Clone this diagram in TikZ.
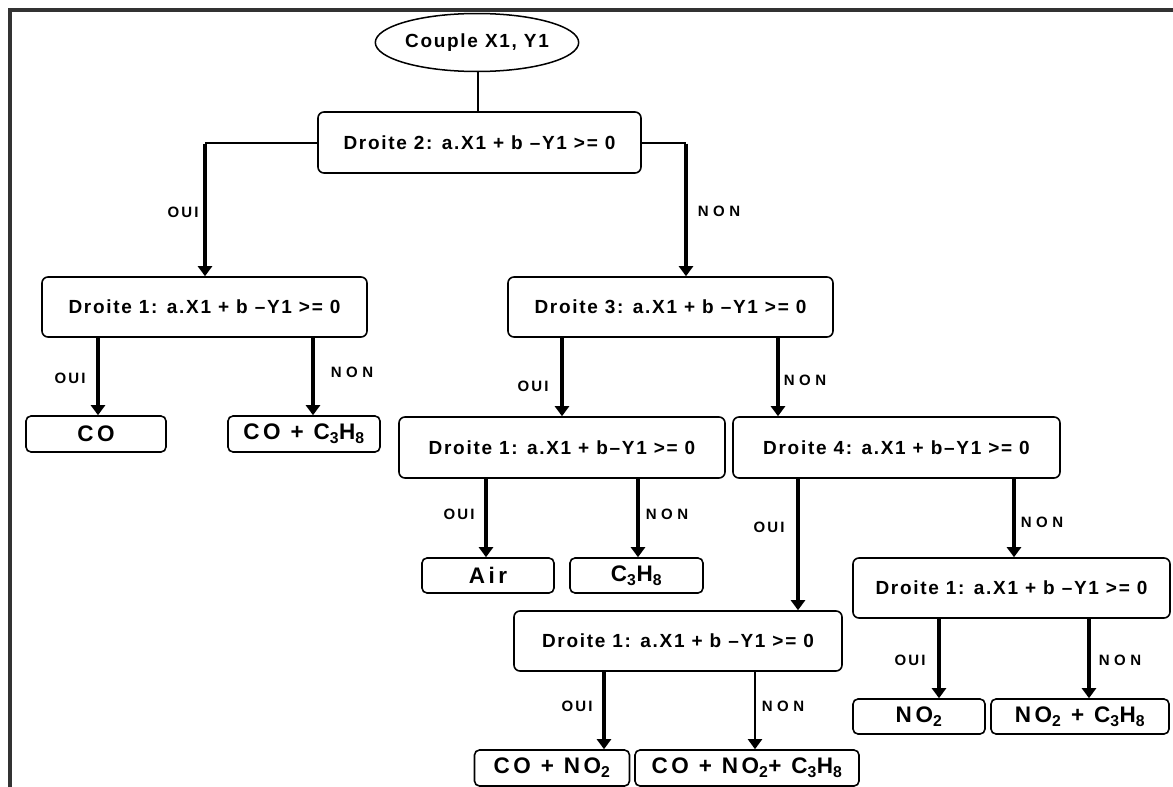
\documentclass[tikz,border=0pt]{standalone}
\usepackage{fontspec}
\newfontfamily\lsf[LetterSpace=9]{Liberation Sans}
\newfontfamily\lsfl[LetterSpace=16]{Liberation Sans}
\newfontfamily\lsfo[LetterSpace=14]{Liberation Sans}
\newfontfamily\lsfn[LetterSpace=30]{Liberation Sans}
\usetikzlibrary{arrows.meta,shapes.geometric}
\begin{document}
\begin{tikzpicture}[x=1pt,y=-1pt,
  cond/.style={draw, line width=1.6pt, rounded corners=6pt, minimum height=61pt, inner sep=0pt, font=\lsf\bfseries\fontsize{19}{21}\selectfont},
  leaf/.style={draw, line width=1.6pt, rounded corners=5pt, minimum height=35pt, inner sep=0pt, font=\lsfl\bfseries\fontsize{22.5}{24}\selectfont},
  oui/.style={font=\lsfo\bfseries\fontsize{15}{17}\selectfont, inner sep=0pt},
  non/.style={font=\lsfn\bfseries\fontsize{15}{17}\selectfont, inner sep=0pt},
  thk/.style={line width=4pt, -{Triangle[length=10pt,width=14pt]}},
  thn/.style={line width=2pt, -{Triangle[length=10pt,width=14pt]}},
  lnk/.style={line width=2pt},
]
\useasboundingbox (0,0) rectangle (1173,787);
\draw[line width=4pt, black!80] (10,787) -- (10,10) -- (1173,10);

% nodes
\node[draw, fill=white, ellipse, line width=1.5pt, minimum width=198pt, minimum height=58pt, inner sep=0pt, font=\lsf\bfseries\fontsize{19}{21}\selectfont] (start) at (477,42.5) {Couple X1, Y1};
\node[cond, minimum width=323pt] (d2) at (479.5,142.5) {Droite 2: a.X1 + b –Y1 >= 0};
\node[cond, minimum width=325pt, minimum height=60pt] (d1a) at (204.5,307) {Droite 1: a.X1 + b –Y1 >= 0};
\node[cond, minimum width=325pt, minimum height=60pt] (d3) at (670.5,307) {Droite 3: a.X1 + b –Y1 >= 0};
\node[cond, minimum width=326pt] (d1b) at (562,447.5) {Droite 1: a.X1 + b–Y1 >= 0};
\node[cond, minimum width=327pt] (d4) at (896.5,447.5) {Droite 4: a.X1 + b–Y1 >= 0};
\node[cond, minimum width=317pt, minimum height=60pt] (d1c) at (1011.5,588) {Droite 1: a.X1 + b –Y1 >= 0};
\node[cond, minimum width=328pt, minimum height=60pt] (d1d) at (678,641) {Droite 1: a.X1 + b –Y1 >= 0};

\node[leaf, minimum width=140pt, minimum height=36pt] (co) at (96,434) {CO};
\node[leaf, minimum width=152pt, minimum height=36pt] (coc) at (304,434) {CO + C\textsubscript{3}H\textsubscript{8}};
\node[leaf, minimum width=132pt] (air) at (488,575.5) {Air};
\node[leaf, minimum width=133pt] (c3) at (636.5,575.5) {C\textsubscript{3}H\textsubscript{8}};
\node[leaf, minimum width=132pt] (no2) at (919,716.5) {NO\textsubscript{2}};
\node[leaf, minimum width=178pt] (noc) at (1080,716.5) {NO\textsubscript{2} + C\textsubscript{3}H\textsubscript{8}};
\node[leaf, minimum width=155pt, minimum height=36pt] (cono) at (552,768) {CO + NO\textsubscript{2}};
\node[leaf, minimum width=224pt, minimum height=36pt] (conoc) at (747,768) {CO + NO\textsubscript{2}+ C\textsubscript{3}H\textsubscript{8}};

% x positions of the connectors
\coordinate (xs) at (478,0);
\coordinate (xl) at (205,0);
\coordinate (xr) at (686,0);
\coordinate (x1) at (98,0);
\coordinate (x2) at (313,0);
\coordinate (x3) at (562,0);
\coordinate (x4) at (778,0);
\coordinate (x5) at (486,0);
\coordinate (x6) at (638,0);
\coordinate (x7) at (798,0);
\coordinate (x8) at (1014,0);
\coordinate (x9) at (604,0);
\coordinate (x10) at (755,0);
\coordinate (x11) at (939,0);
\coordinate (x12) at (1089,0);

% connectors
\draw[line width=1.5pt] (start.south -| xs) -- (d2.north -| xs);
\draw[lnk] (d2.west) -- (d2.west -| xl);
\draw[thk] ([yshift=-1pt]d2.west -| xl) -- (d1a.north -| xl);
\draw[lnk] (d2.east) -- (d2.east -| xr);
\draw[thk] ([yshift=-1pt]d2.east -| xr) -- (d3.north -| xr);

\draw[thk] (d1a.south -| x1) -- (co.north -| x1);
\draw[thk] (d1a.south -| x2) -- (coc.north -| x2);
\draw[thk] (d3.south -| x3) -- (d1b.north -| x3);
\draw[thk] (d3.south -| x4) -- (d4.north -| x4);
\draw[thk] (d1b.south -| x5) -- (air.north -| x5);
\draw[thk] (d1b.south -| x6) -- (c3.north -| x6);
\draw[thk] (d4.south -| x7) -- (d1d.north -| x7);
\draw[thk] (d4.south -| x8) -- (d1c.north -| x8);
\draw[thk] (d1d.south -| x9) -- (cono.north -| x9);
\draw[thn] (d1d.south -| x10) -- (conoc.north -| x10);
\draw[thk] (d1c.south -| x11) -- (no2.north -| x11);
\draw[thk] (d1c.south -| x12) -- (noc.north -| x12);

% labels
\node[oui] (l1) at (183,212) {OUI};
\node[non] (l2) at (719,211) {NON};
\node[oui] (l3) at (70,378) {OUI};
\node[non] (l4) at (352,372) {NON};
\node[oui] (l5) at (533,386) {OUI};
\node[non] (l6) at (805,380) {NON};
\node[oui] (l7) at (459,514) {OUI};
\node[non] (l8) at (667,514) {NON};
\node[oui] (l9) at (769,527) {OUI};
\node[non] (l10) at (1042,522) {NON};
\node[oui] (l11) at (577,706) {OUI};
\node[non] (l12) at (783,706) {NON};
\node[oui] (l13) at (910,660) {OUI};
\node[non] (l14) at (1120,660) {NON};
\end{tikzpicture}
\end{document}
